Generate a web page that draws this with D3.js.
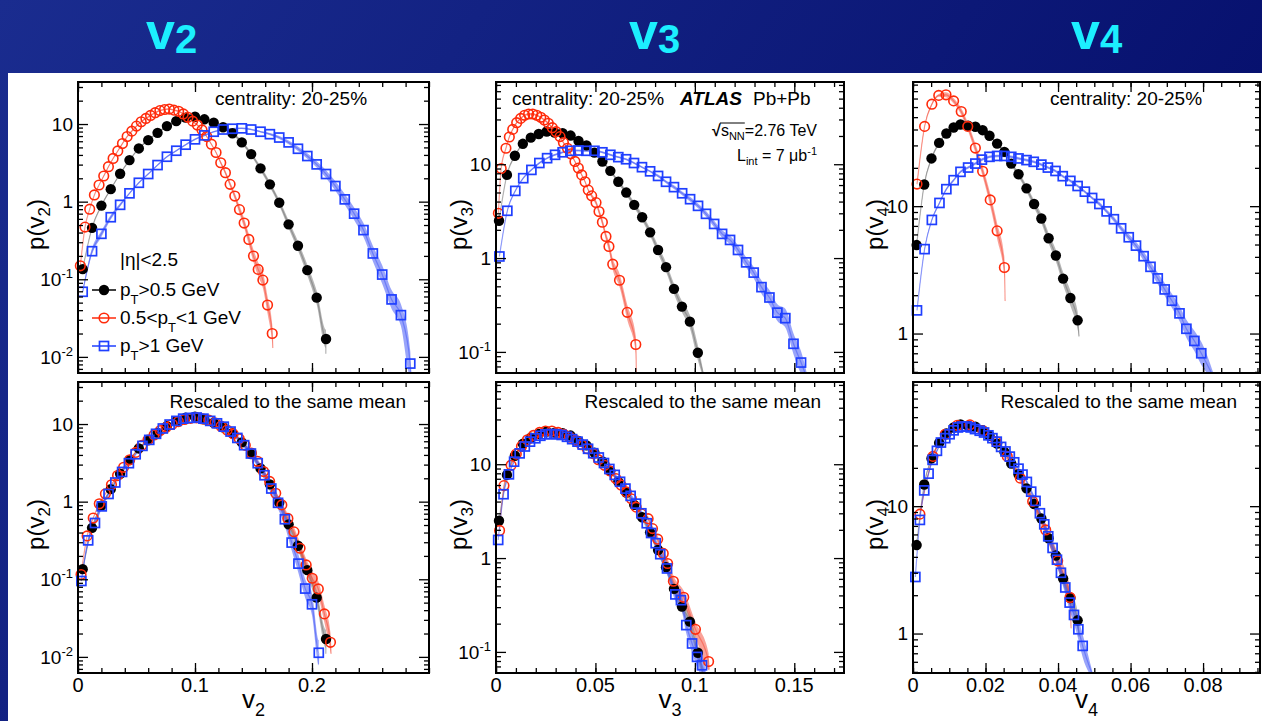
<!DOCTYPE html>
<html>
<head>
<meta charset="utf-8">
<script src="https://d3js.org/d3.v7.min.js"></script>
<style>
  body { margin: 0; overflow: hidden; }
  svg { display: block; font-family: "Liberation Sans", Arial, Helvetica, sans-serif; }
</style>
</head>
<body>
<svg id="vis" width="1262" height="721"></svg>
<script>
// ---------- v2 (top row: as measured) ----------
let v2AllX = [0.004,0.012,0.020,0.028,0.036,0.044,0.052,0.060,0.068,0.076,0.084,0.092,0.100,0.108,0.116,0.124,0.132,0.140,0.148,0.156,0.164,0.172,0.180,0.188,0.196,0.204,0.212];
let v2AllY = [0.135,0.46,0.89,1.45,2.29,3.43,4.85,6.2,7.7,9.4,10.9,12.1,12.4,11.5,10.4,9.1,7.6,5.8,4.1,2.68,1.67,0.97,0.51,0.27,0.131,0.058,0.017];
let v2AllErr = [0.005,0.01,0.01,0.01,0.01,0.01,0.01,0.01,0.01,0.01,0.01,0.01,0.01,0.01,0.015,0.015,0.02,0.02,0.025,0.03,0.035,0.04,0.05,0.06,0.07,0.09,0.12];
let v2AllTail = [0.2118, 0.011];

let v2LowX = [0.002,0.006,0.010,0.014,0.018,0.022,0.026,0.030,0.034,0.038,0.042,0.046,0.050,0.054,0.058,0.062,0.066,0.070,0.074,0.078,0.082,0.086,0.090,0.094,0.098,0.102,0.106,0.110,0.114,0.118,0.122,0.126,0.130,0.134,0.138,0.142,0.146,0.150,0.154,0.158,0.162,0.166];
let v2LowY = [0.149,0.47,0.80,1.22,1.64,2.14,2.82,3.6,4.5,5.6,6.9,8.1,9.4,10.7,11.8,12.9,14.0,14.9,15.4,15.6,15.1,14.6,13.5,12.2,10.9,9.7,8.4,6.9,5.5,4.3,3.17,2.36,1.67,1.18,0.79,0.53,0.326,0.199,0.134,0.0975,0.0465,0.020];
let v2LowErr = [0.005,0.005,0.005,0.005,0.005,0.01,0.01,0.01,0.01,0.01,0.01,0.01,0.01,0.01,0.01,0.01,0.01,0.01,0.01,0.01,0.01,0.01,0.01,0.01,0.01,0.01,0.01,0.01,0.01,0.01,0.02,0.025,0.03,0.04,0.05,0.06,0.07,0.08,0.09,0.1,0.11,0.12];
let v2LowTail = [0.1665, 0.013];

let v2HighX = [0.004,0.012,0.020,0.028,0.036,0.044,0.052,0.060,0.068,0.076,0.084,0.092,0.100,0.108,0.116,0.124,0.132,0.140,0.148,0.156,0.164,0.172,0.180,0.188,0.196,0.204,0.212,0.220,0.228,0.236,0.244,0.252,0.260,0.268,0.276,0.284];
let v2HighY = [0.069,0.23,0.385,0.63,0.91,1.28,1.75,2.27,2.96,3.79,4.53,5.42,6.35,7.14,7.96,8.5,8.7,8.8,8.5,7.96,7.4,6.7,5.8,4.8,3.87,3.02,2.27,1.59,1.07,0.70,0.43,0.215,0.115,0.055,0.0345,0.0082];
let v2HighErr = [0.02,0.04,0.04,0.03,0.02,0.01,0.01,0.01,0.01,0.01,0.01,0.01,0.01,0.01,0.01,0.01,0.01,0.01,0.01,0.01,0.015,0.02,0.025,0.03,0.035,0.04,0.05,0.06,0.07,0.08,0.09,0.1,0.12,0.12,0.14,0.16];
let v2HighTail = [0.2845, 0.006];

// ---------- v2 (bottom row: rescaled to the same mean) ----------
let v2LowScaledX = [0.0026,0.0078,0.013,0.0182,0.0234,0.0286,0.0338,0.039,0.0442,0.0494,0.0546,0.0598,0.065,0.0702,0.0754,0.0806,0.0858,0.091,0.0962,0.1014,0.1066,0.1118,0.117,0.1222,0.1274,0.1326,0.1378,0.143,0.1482,0.1534,0.1586,0.1638,0.169,0.1742,0.1794,0.1846,0.1898,0.195,0.2002,0.2054,0.2106,0.2158];
let v2LowScaledY = [0.115,0.362,0.615,0.938,1.26,1.65,2.17,2.77,3.46,4.31,5.31,6.23,7.23,8.23,9.08,9.92,10.77,11.46,11.85,12.0,11.62,11.23,10.38,9.38,8.38,7.46,6.46,5.31,4.23,3.31,2.44,1.82,1.28,0.908,0.608,0.408,0.251,0.153,0.103,0.075,0.0358,0.0154];
let v2LowScaledTail = [0.2163, 0.011];

let v2HighScaledX = [0.0029,0.0087,0.0145,0.0203,0.0261,0.0319,0.0377,0.0435,0.0493,0.0551,0.0609,0.0667,0.0725,0.0783,0.0841,0.0899,0.0957,0.1014,0.1072,0.113,0.1188,0.1246,0.1304,0.1362,0.142,0.1478,0.1536,0.1594,0.1652,0.171,0.1768,0.1826,0.1884,0.1942,0.2,0.2058];
let v2HighScaledY = [0.095,0.317,0.531,0.869,1.256,1.766,2.415,3.13,4.08,5.23,6.25,7.48,8.76,9.85,10.98,11.73,12.0,12.14,11.73,10.98,10.21,9.25,8.0,6.62,5.34,4.17,3.13,2.19,1.477,0.966,0.593,0.297,0.159,0.0759,0.0476,0.0113];
let v2HighScaledTail = [0.2055, 0.008];

// ---------- v3 (top row) ----------
let v3AllX = [0.0015,0.0055,0.0095,0.0135,0.0175,0.0215,0.0255,0.0295,0.0335,0.0375,0.0415,0.0455,0.0495,0.0535,0.0575,0.0615,0.0655,0.0695,0.0735,0.0775,0.0815,0.0855,0.0895,0.0935,0.0975,0.1015];
let v3AllY = [2.5,7.7,12.3,16.5,19.2,21.0,22.3,21.7,21.4,20.2,17.7,15.9,13.3,10.7,8.5,6.5,4.99,3.69,2.72,1.88,1.22,0.80,0.47,0.304,0.21,0.098];
let v3AllErr = [0.005,0.005,0.01,0.01,0.01,0.01,0.01,0.01,0.01,0.01,0.01,0.01,0.01,0.01,0.015,0.02,0.025,0.03,0.035,0.04,0.045,0.05,0.055,0.06,0.07,0.08];
let v3AllTail = [0.1055, 0.045];

let v3LowX = [0.0012,0.0026,0.005,0.0067,0.0084,0.0104,0.0124,0.0144,0.0164,0.0185,0.0205,0.0225,0.0243,0.0263,0.0283,0.0302,0.0322,0.0339,0.0359,0.0376,0.0397,0.0414,0.0431,0.0448,0.0464,0.0481,0.0503,0.0518,0.0535,0.0553,0.0568,0.0587,0.0621,0.066,0.0703];
let v3LowY = [3.0,9.0,14.8,19.5,23.5,27.7,30.8,33.2,34.3,34.3,33.2,31.6,29.6,27.3,24.5,22.2,19.7,17.0,14.8,12.9,10.7,9.1,7.7,6.5,5.3,4.6,3.9,3.13,2.41,1.70,1.33,0.86,0.58,0.264,0.12];
let v3LowErr = [0.005,0.005,0.005,0.01,0.01,0.01,0.01,0.01,0.01,0.01,0.01,0.01,0.01,0.01,0.01,0.01,0.01,0.01,0.01,0.01,0.01,0.01,0.01,0.01,0.01,0.02,0.025,0.03,0.035,0.04,0.05,0.06,0.07,0.08,0.09];
let v3LowTail = [0.0706, 0.05];

let v3HighX = [0.0017,0.0057,0.0097,0.0137,0.0178,0.0218,0.0257,0.0297,0.0335,0.0374,0.0414,0.0454,0.0495,0.0535,0.0575,0.0615,0.0654,0.0694,0.0734,0.0775,0.0815,0.0855,0.0895,0.0936,0.0976,0.1016,0.1056,0.1097,0.1137,0.1177,0.1217,0.1258,0.1296,0.1335,0.1375,0.1415,0.1455,0.1496,0.1534];
let v3HighY = [1.04,3.19,5.2,7.1,8.7,10.3,11.6,12.6,13.4,13.9,14.0,13.9,13.9,13.4,12.6,11.9,11.3,10.3,9.3,8.4,7.5,6.5,5.7,4.9,4.24,3.6,2.96,2.31,1.81,1.56,1.22,0.90,0.70,0.49,0.38,0.262,0.229,0.122,0.077];
let v3HighErr = [0.005,0.01,0.01,0.01,0.01,0.01,0.01,0.01,0.01,0.01,0.01,0.01,0.01,0.01,0.01,0.01,0.01,0.01,0.01,0.01,0.015,0.015,0.02,0.02,0.025,0.025,0.03,0.035,0.04,0.045,0.05,0.055,0.06,0.07,0.08,0.09,0.1,0.11,0.12];
let v3HighTail = [0.1575, 0.045];

// ---------- v3 (bottom row, rescaled) ----------
let v3LowScaledX = [0.0018,0.004,0.0076,0.0102,0.0128,0.0158,0.0188,0.0219,0.0249,0.0281,0.0312,0.0342,0.0369,0.04,0.043,0.0459,0.0489,0.0515,0.0546,0.0572,0.0603,0.0629,0.0655,0.0681,0.0705,0.0731,0.0765,0.0787,0.0813,0.0841,0.0863,0.0892,0.0944,0.1003,0.1069];
let v3LowScaledY = [1.97,5.92,9.74,12.83,15.46,18.22,20.26,21.84,22.57,22.57,21.84,20.79,19.47,17.96,16.12,14.61,12.96,11.18,9.74,8.49,7.04,5.99,5.07,4.28,3.49,2.96,2.63,2.06,1.59,1.12,0.875,0.566,0.382,0.174,0.079];
let v3LowScaledTail = [0.1072, 0.065];

let v3HighScaledX = [0.0011,0.0038,0.0065,0.0091,0.0119,0.0145,0.0171,0.0198,0.0223,0.0249,0.0276,0.0303,0.033,0.0357,0.0383,0.041,0.0436,0.0463,0.0489,0.0517,0.0543,0.057,0.0597,0.0624,0.0651,0.0677,0.0704,0.0731,0.0758,0.078,0.0803,0.0826,0.086,0.0902,0.093,0.0957,0.0986,0.1011,0.1036];
let v3HighScaledY = [1.56,4.79,7.8,10.65,13.05,15.45,17.4,18.9,20.1,20.85,21.0,20.85,20.5,19.6,18.5,17.4,16.2,14.6,13.1,11.8,10.3,8.9,7.7,6.5,5.5,4.6,3.8,3.0,2.35,1.85,1.44,1.10,0.775,0.41,0.356,0.193,0.123,0.0885,0.072];
let v3HighScaledTail = [0.1065, 0.045];

// ---------- v4 (top row) ----------
let v4AllX = [0.001,0.0031,0.0051,0.0072,0.0092,0.0112,0.0131,0.0152,0.0172,0.0192,0.0211,0.0232,0.0252,0.0271,0.0291,0.0313,0.0334,0.0354,0.0374,0.0394,0.0414,0.0434,0.0454];
let v4AllY = [4.95,14.8,23.7,31.4,37.2,41.5,43.8,42.8,42,39.5,35.7,31,26.7,21.6,17.8,13.8,10.4,8.0,5.6,4.1,2.7,1.9,1.27];
let v4AllErr = [0.005,0.01,0.01,0.01,0.01,0.01,0.01,0.01,0.01,0.01,0.01,0.01,0.01,0.015,0.02,0.025,0.03,0.035,0.04,0.045,0.05,0.06,0.07];
let v4AllTail = [0.0458, 0.95];

let v4LowX = [0.0011,0.0032,0.0052,0.0071,0.0091,0.0112,0.0133,0.0151,0.0172,0.0192,0.0213,0.0232,0.0252];
let v4LowY = [14.9,42.3,63.2,74.1,74.9,67.1,55.4,42.3,28.6,18.8,11.2,6.4,3.3];
let v4LowErr = [0.01,0.01,0.01,0.01,0.02,0.02,0.025,0.03,0.035,0.04,0.05,0.06,0.08];
let v4LowTail = [0.0254, 1.8];

let v4HighX = [0.0011,0.0032,0.0052,0.0073,0.0092,0.0112,0.0131,0.0152,0.0172,0.019,0.0211,0.0232,0.0252,0.0271,0.0291,0.0313,0.0333,0.0354,0.0372,0.0393,0.0413,0.0434,0.0454,0.0474,0.0494,0.0514,0.0534,0.0554,0.0574,0.0595,0.0615,0.0636,0.0655,0.0675,0.0694,0.0714,0.0735,0.0754,0.0776,0.0795];
let v4HighY = [1.52,4.6,7.8,10.6,13.6,16.0,18.6,20.1,21.6,23.2,24.4,24.8,24.8,24.4,23.7,23.0,22.3,21.2,20.1,18.9,17.2,15.8,14.4,13.0,11.6,10.4,9.1,7.9,6.7,5.7,4.9,4.05,3.34,2.71,2.22,1.81,1.44,1.09,0.875,0.70];
let v4HighErr = [0.005,0.01,0.01,0.01,0.01,0.01,0.01,0.01,0.01,0.01,0.01,0.01,0.01,0.01,0.01,0.01,0.01,0.01,0.01,0.01,0.01,0.01,0.01,0.01,0.01,0.015,0.015,0.02,0.02,0.025,0.03,0.035,0.04,0.045,0.05,0.055,0.06,0.07,0.08,0.09];
let v4HighTail = [0.0835, 0.42];

// ---------- v4 (bottom row, rescaled) ----------
let v4LowScaledX = [0.0019,0.0055,0.0089,0.0122,0.0157,0.0193,0.0229,0.026,0.0296,0.033,0.0366,0.0399,0.0433];
let v4LowScaledY = [8.66,24.6,36.7,43.1,43.5,39.0,32.2,24.6,16.6,10.9,6.51,3.72,1.92];
let v4LowScaledTail = [0.0436, 1.1];

let v4HighScaledX = [0.00065,0.0019,0.0031,0.0043,0.0054,0.0066,0.0077,0.0089,0.0101,0.0112,0.0124,0.0136,0.0148,0.0159,0.0171,0.0184,0.0196,0.0208,0.0219,0.0231,0.0243,0.0255,0.0267,0.0279,0.0291,0.0302,0.0314,0.0326,0.0338,0.035,0.0362,0.0373,0.0385,0.0397,0.0408,0.042,0.0432,0.0444,0.0456,0.0468];
let v4HighScaledY = [2.78,7.8,13.3,18.0,23.1,27.2,31.6,34.2,36.7,39.4,41.5,42.2,42.2,41.5,40.3,39.1,37.9,36.0,34.2,32.1,29.2,26.9,24.5,22.1,19.7,17.7,15.5,13.0,11.0,8.8,7.2,5.8,4.7,3.8,3.0,2.3,1.75,1.4,1.08,0.80];
let v4HighScaledTail = [0.0498, 0.45];

// ---------- labels ----------
let harmonics = ["2", "3", "4"];
let v2Ticks = [0, 0.1, 0.2];
let v3Ticks = [0, 0.05, 0.1, 0.15];
let v4Ticks = [0, 0.02, 0.04, 0.06, 0.08];
let centralityText = "centrality: 20-25%";
let rescaledText = "Rescaled to the same mean";
let etaText = "|η|<2.5";
let legendKinds = ["all", "low", "high"];
let legendText = [["p", "T", ">0.5 GeV"], ["0.5<p", "T", "<1 GeV"], ["p", "T", ">1 GeV"]];

let styles = {
  all:  {marker: "dot",    color: "#000000", band: "rgba(110,110,110,0.5)"},
  low:  {marker: "circle", color: "#ff2a0a", band: "rgba(245,70,50,0.5)"},
  high: {marker: "square", color: "#1f3fff", band: "rgba(70,90,245,0.55)"}
};

let svg = d3.select("#vis");
let defs = svg.append("defs");

// page background
let grad = defs.append("linearGradient").attr("id", "bg")
  .attr("x1", "0").attr("y1", "0").attr("x2", "1").attr("y2", "0.4");
grad.append("stop").attr("offset", "0%").attr("stop-color", "#1a2c8f");
grad.append("stop").attr("offset", "100%").attr("stop-color", "#050e6b");
svg.append("rect").attr("width", 1262).attr("height", 721).attr("fill", "url(#bg)");
svg.append("rect").attr("x", 8).attr("y", 73).attr("width", 1254).attr("height", 648).attr("fill", "#ffffff");

// slide headers
let headerX = [146, 629, 1071];
harmonics.forEach(function(n, i) {
  let t = svg.append("text")
    .attr("x", headerX[i]).attr("y", 49)
    .attr("fill", "#1cefff")
    .style("font-size", "52px").style("font-weight", "bold");
  t.append("tspan").text("v");
  t.append("tspan").attr("dy", 4).style("font-size", "40px").text(n);
});

let rows = [{top: 82, bottom: 373}, {top: 382, bottom: 673}];

let columns = [
  {n: "2", left: 78, right: 429, xMax: 0.3, xMinor: 0.02, xTicks: v2Ticks,
   yMin: 0.0062, yMax: 34.8, labelOff: 34, centX: 215,
   top: [
     {kind: "all", x: v2AllX, y: v2AllY, err: v2AllErr, tail: v2AllTail},
     {kind: "low", x: v2LowX, y: v2LowY, err: v2LowErr, tail: v2LowTail},
     {kind: "high", x: v2HighX, y: v2HighY, err: v2HighErr, tail: v2HighTail}],
   bottom: [
     {kind: "all", x: v2AllX, y: v2AllY, err: v2AllErr, tail: v2AllTail},
     {kind: "low", x: v2LowScaledX, y: v2LowScaledY, err: v2LowErr, tail: v2LowScaledTail},
     {kind: "high", x: v2HighScaledX, y: v2HighScaledY, err: v2HighErr, tail: v2HighScaledTail}]},
  {n: "3", left: 496, right: 844, xMax: 0.175, xMinor: 0.01, xTicks: v3Ticks,
   yMin: 0.0596, yMax: 75.2, labelOff: 29, centX: 512,
   top: [
     {kind: "all", x: v3AllX, y: v3AllY, err: v3AllErr, tail: v3AllTail},
     {kind: "low", x: v3LowX, y: v3LowY, err: v3LowErr, tail: v3LowTail},
     {kind: "high", x: v3HighX, y: v3HighY, err: v3HighErr, tail: v3HighTail}],
   bottom: [
     {kind: "all", x: v3AllX, y: v3AllY, err: v3AllErr, tail: v3AllTail},
     {kind: "low", x: v3LowScaledX, y: v3LowScaledY, err: v3LowErr, tail: v3LowScaledTail},
     {kind: "high", x: v3HighScaledX, y: v3HighScaledY, err: v3HighErr, tail: v3HighScaledTail}]},
  {n: "4", left: 913, right: 1260, xMax: 0.0957, xMinor: 0.005, xTicks: v4Ticks,
   yMin: 0.49, yMax: 94.4, labelOff: 30, centX: 1050,
   top: [
     {kind: "all", x: v4AllX, y: v4AllY, err: v4AllErr, tail: v4AllTail},
     {kind: "low", x: v4LowX, y: v4LowY, err: v4LowErr, tail: v4LowTail},
     {kind: "high", x: v4HighX, y: v4HighY, err: v4HighErr, tail: v4HighTail}],
   bottom: [
     {kind: "all", x: v4AllX, y: v4AllY, err: v4AllErr, tail: v4AllTail},
     {kind: "low", x: v4LowScaledX, y: v4LowScaledY, err: v4LowErr, tail: v4LowScaledTail},
     {kind: "high", x: v4HighScaledX, y: v4HighScaledY, err: v4HighErr, tail: v4HighScaledTail}]}
];

function drawMarkers(g, kind, coords) {
  let st = styles[kind];
  let sel = g.append("g").selectAll(".m").data(coords).enter();
  if (st.marker === "dot") {
    sel.append("circle")
      .attr("cx", d => d[0]).attr("cy", d => d[1]).attr("r", 5.2)
      .attr("fill", st.color);
  } else if (st.marker === "circle") {
    sel.append("circle")
      .attr("cx", d => d[0]).attr("cy", d => d[1]).attr("r", 4.8)
      .attr("fill", "none").attr("stroke", st.color).attr("stroke-width", 1.6);
  } else {
    sel.append("rect")
      .attr("x", d => d[0] - 4.5).attr("y", d => d[1] - 4.5)
      .attr("width", 9).attr("height", 9)
      .attr("fill", "none").attr("stroke", st.color).attr("stroke-width", 1.7);
  }
}

function tickAxis(g, axis, transform) {
  let a = g.append("g").attr("transform", transform).call(axis.tickFormat(""));
  a.select(".domain").remove();
  a.selectAll(".tick line").attr("stroke", "#000").attr("stroke-width", 1.3);
}

function drawPanel(col, row, ri, ci) {
  let x = d3.scaleLinear().domain([0, col.xMax]).range([col.left, col.right]);
  let y = d3.scaleLog().domain([col.yMin, col.yMax]).range([row.bottom, row.top]);
  let w = col.right - col.left;
  let h = row.bottom - row.top;
  let id = "clip" + ci + ri;
  defs.append("clipPath").attr("id", id).append("rect")
    .attr("x", col.left).attr("y", row.top).attr("width", w).attr("height", h);

  let series = ri === 0 ? col.top : col.bottom;
  let plot = svg.append("g");

  // systematic bands
  let bandLayer = plot.append("g").attr("clip-path", "url(#" + id + ")");
  let area = d3.area().curve(d3.curveMonotoneX)
    .x(d => x(d.x))
    .y0(d => y(d.y / Math.pow(10, d.e)))
    .y1(d => y(d.y * Math.pow(10, d.e)));
  let line = d3.line().curve(d3.curveMonotoneX)
    .x(d => x(d.x))
    .y(d => y(d.y));
  series.forEach(function(s) {
    let pts = s.x.map(function(v, i) { return {x: v, y: s.y[i], e: s.err[i]}; });
    pts.push({x: s.tail[0], y: s.tail[1], e: 0.01});
    bandLayer.append("path").attr("d", area(pts)).attr("fill", styles[s.kind].band);
    bandLayer.append("path").attr("d", line(pts))
      .attr("fill", "none").attr("stroke", styles[s.kind].band).attr("stroke-width", 1.2);
  });

  // points
  series.forEach(function(s) {
    drawMarkers(plot, s.kind, s.x.map(function(v, i) { return [x(v), y(s.y[i])]; }));
  });

  // ticks on all four sides, pointing inwards
  let xMinor = d3.range(0, col.xMax + 1e-9, col.xMinor);
  let yMajor = [], yMinor = [];
  for (let d = Math.floor(Math.log10(col.yMin)); d <= Math.ceil(Math.log10(col.yMax)); d++) {
    for (let k = 1; k < 10; k++) {
      let v = k * Math.pow(10, d);
      if (v >= col.yMin && v <= col.yMax) (k === 1 ? yMajor : yMinor).push(v);
    }
  }
  tickAxis(plot, d3.axisBottom(x).tickValues(xMinor).tickSize(-5), "translate(0," + row.bottom + ")");
  tickAxis(plot, d3.axisBottom(x).tickValues(col.xTicks).tickSize(-10), "translate(0," + row.bottom + ")");
  tickAxis(plot, d3.axisTop(x).tickValues(xMinor).tickSize(-5), "translate(0," + row.top + ")");
  tickAxis(plot, d3.axisTop(x).tickValues(col.xTicks).tickSize(-10), "translate(0," + row.top + ")");
  tickAxis(plot, d3.axisLeft(y).tickValues(yMinor).tickSize(-5), "translate(" + col.left + ",0)");
  tickAxis(plot, d3.axisLeft(y).tickValues(yMajor).tickSize(-10), "translate(" + col.left + ",0)");
  tickAxis(plot, d3.axisRight(y).tickValues(yMinor).tickSize(-5), "translate(" + col.right + ",0)");
  tickAxis(plot, d3.axisRight(y).tickValues(yMajor).tickSize(-10), "translate(" + col.right + ",0)");

  plot.append("rect")
    .attr("x", col.left).attr("y", row.top).attr("width", w).attr("height", h)
    .attr("fill", "none").attr("stroke", "#000").attr("stroke-width", 2);

  // y tick labels
  yMajor.forEach(function(v) {
    let t = plot.append("text")
      .attr("x", col.left - 5).attr("y", y(v)).attr("dy", "0.36em")
      .attr("text-anchor", "end").style("font-size", "19px");
    let e = Math.round(Math.log10(v));
    if (e >= 0) {
      t.text(String(Math.round(v)));
    } else {
      t.append("tspan").text("10");
      t.append("tspan").attr("dy", -8).style("font-size", "13px").text(String(e));
    }
  });

  // y title
  let yl = plot.append("text")
    .attr("transform", "translate(" + (col.left - col.labelOff) + "," + ((row.top + row.bottom) / 2 - 3) + ") rotate(-90)")
    .attr("text-anchor", "middle").style("font-size", "24px");
  yl.append("tspan").text("p(v");
  yl.append("tspan").attr("dy", 6).style("font-size", "17px").text(col.n);
  yl.append("tspan").attr("dy", -6).text(")");

  if (ri === 0) {
    plot.append("text").attr("x", col.centX).attr("y", 105)
      .style("font-size", "19px").text(centralityText);
  } else {
    plot.append("text").attr("x", col.right - 23).attr("y", 408)
      .attr("text-anchor", "end").style("font-size", "19px").text(rescaledText);

    col.xTicks.forEach(function(v) {
      plot.append("text").attr("x", x(v)).attr("y", 692)
        .attr("text-anchor", "middle").style("font-size", "20px").text(String(v));
    });
    let xl = plot.append("text")
      .attr("x", (col.left + col.right) / 2).attr("y", 708)
      .attr("text-anchor", "middle").style("font-size", "26px");
    xl.append("tspan").text("v");
    xl.append("tspan").attr("dy", 8).style("font-size", "18px").text(col.n);
  }
}

columns.forEach(function(col, ci) {
  rows.forEach(function(row, ri) { drawPanel(col, row, ri, ci); });
});

// legend (top-left panel)
svg.append("text").attr("x", 120).attr("y", 266).style("font-size", "19px").text(etaText);
let legendY = [290, 318, 346];
legendKinds.forEach(function(kind, i) {
  let ly = legendY[i];
  svg.append("line")
    .attr("x1", 92).attr("x2", 116).attr("y1", ly).attr("y2", ly)
    .attr("stroke", styles[kind].color).attr("stroke-width", 1.5);
  drawMarkers(svg, kind, [[104, ly]]);
  let t = svg.append("text").attr("x", 120).attr("y", ly + 6).style("font-size", "19px");
  t.append("tspan").text(legendText[i][0]);
  t.append("tspan").attr("dy", 8).style("font-size", "13px").text(legendText[i][1]);
  t.append("tspan").attr("dy", -8).text(legendText[i][2]);
});

// ATLAS label (top-middle panel)
svg.append("text").attr("x", 680).attr("y", 105)
  .style("font-size", "19px").style("font-weight", "bold").style("font-style", "italic")
  .text("ATLAS");
svg.append("text").attr("x", 753).attr("y", 105).style("font-size", "19px").text("Pb+Pb");

let rt = svg.append("text").attr("x", 817).attr("y", 136)
  .attr("text-anchor", "end").style("font-size", "16px");
rt.append("tspan").style("font-weight", "bold").text("√");
rt.append("tspan").text("s");
rt.append("tspan").attr("dy", 4).style("font-size", "11px").text("NN");
rt.append("tspan").attr("dy", -4).text("=2.76 TeV");
let rn = rt.node();
let barX1 = rn.getEndPositionOfChar(0).x - 1;
let barX2 = rn.getEndPositionOfChar(3).x;
svg.append("line").attr("x1", barX1).attr("x2", barX2).attr("y1", 123).attr("y2", 123)
  .attr("stroke", "#000").attr("stroke-width", 1);

let lt = svg.append("text").attr("x", 817).attr("y", 161)
  .attr("text-anchor", "end").style("font-size", "16px");
lt.append("tspan").text("L");
lt.append("tspan").attr("dy", 4).style("font-size", "11px").text("int");
lt.append("tspan").attr("dy", -4).text(" = 7 μb");
lt.append("tspan").attr("dy", -6).style("font-size", "11px").text("-1");
</script>
</body>
</html>
